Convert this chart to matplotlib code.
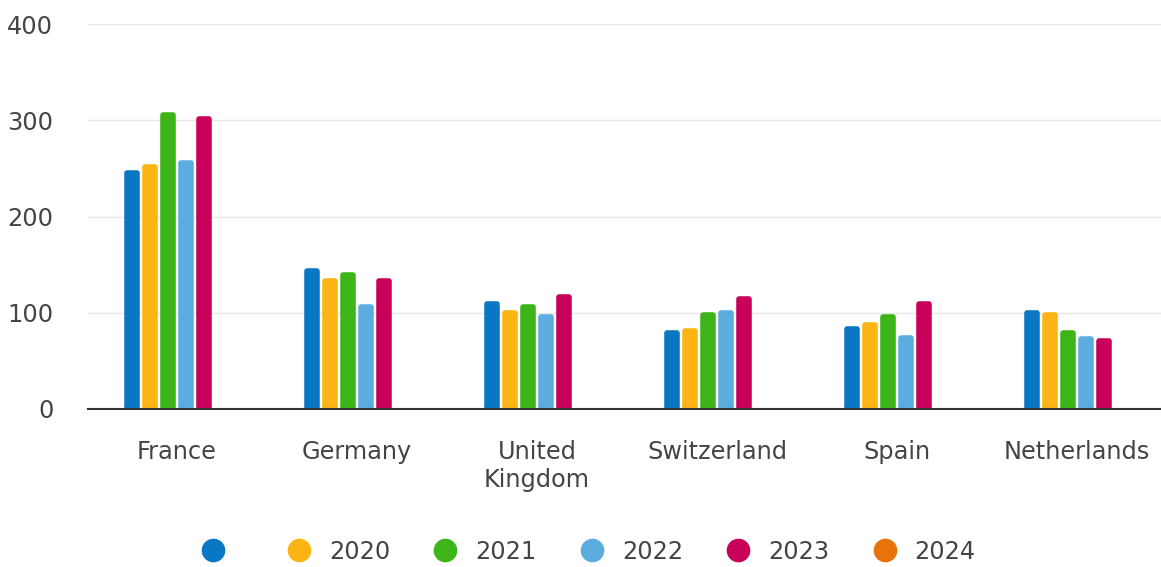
import numpy as np
import matplotlib
matplotlib.use("Agg")
import matplotlib.pyplot as plt
from matplotlib.lines import Line2D

plt.rcParams['font.family'] = ['DejaVu Sans']

countries = ['France', 'Germany', 'United\nKingdom', 'Switzerland', 'Spain', 'Netherlands']
series_labels = ['', '2020', '2021', '2022', '2023', '2024']
series_colors = ['#0a77c4', '#fdb515', '#3db51a', '#5bacdf', '#c9005a', '#e8730c']

vals_blank = [245, 143, 109, 79, 83, 100]
vals_2020 = [251, 133, 100, 81, 87, 98]
vals_2021 = [305, 139, 106, 98, 96, 79]
vals_2022 = [256, 106, 96, 100, 74, 73]
vals_2023 = [301, 133, 116, 114, 109, 71]
vals_2024 = [0, 0, 0, 0, 0, 0]

series = [vals_blank, vals_2020, vals_2021, vals_2022, vals_2023, vals_2024]

text_color = '#444444'
fs = 17.3

fig = plt.figure(figsize=(11.61, 5.67), dpi=100)
ax = fig.add_axes([88 / 1161, 158 / 567, 1 - 88 / 1161, (409 - 24) / 567])

x = np.arange(len(countries))
step = 0.1
bw = 0.056
for i, (vals, col) in enumerate(zip(series, series_colors)):
    offs = (i - 2.5) * step
    v = np.array(vals, dtype=float)
    mask = v > 0
    ax.bar(x[mask] + offs, v[mask], width=bw, color=col, edgecolor=col,
           linewidth=4, joinstyle='round', zorder=3)

ax.set_xlim(-0.494, 5.467)
ax.set_ylim(0, 400)
ax.set_yticks([0, 100, 200, 300, 400])
ax.grid(axis='y', color='#e6e6e6', linewidth=1, zorder=0)
ax.set_axisbelow(True)

for s in ['top', 'right', 'left']:
    ax.spines[s].set_visible(False)
ax.spines['bottom'].set_color('#333333')
ax.spines['bottom'].set_linewidth(1.5)
ax.spines['bottom'].set_zorder(4)

ax.set_xticks(x)
ax.set_xticklabels(countries, fontsize=fs, color=text_color, linespacing=1.25)
ax.tick_params(axis='x', length=0, pad=22)
ax.tick_params(axis='y', length=0, pad=25, labelsize=fs, labelcolor=text_color)

handles = [Line2D([], [], linestyle='none', marker='o', markersize=16,
                  markerfacecolor=c, markeredgecolor=c) for c in series_colors]
fig.legend(handles, series_labels, loc='center', bbox_to_anchor=(0.507, 0.027),
           ncol=6, frameon=False, fontsize=fs, labelcolor=text_color,
           handlelength=1.0, handletextpad=0.75, columnspacing=1.8)

fig.savefig('out.png', dpi=100)
